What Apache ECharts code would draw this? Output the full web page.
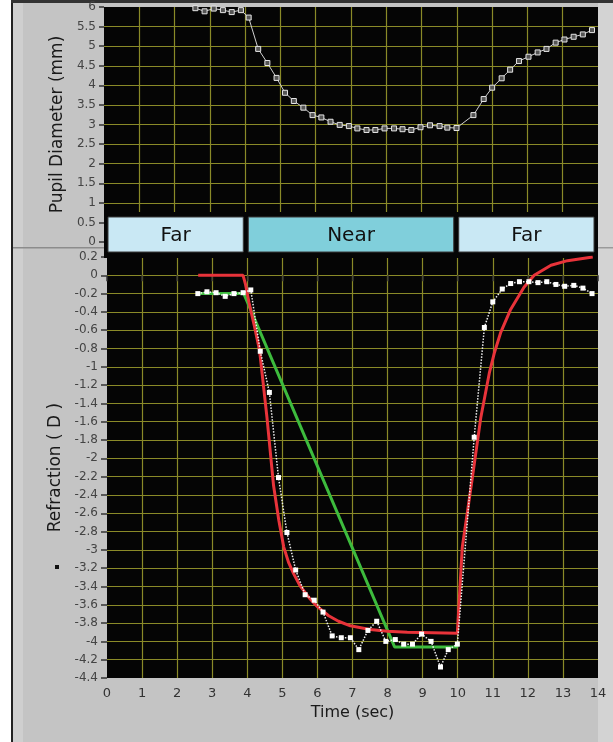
<!DOCTYPE html>
<html>
<head>
<meta charset="utf-8">
<script src="https://cdn.jsdelivr.net/npm/echarts@6/dist/echarts.min.js"></script>
<style>
  html, body { margin: 0; padding: 0; background: #fff; }
  #main { width: 613px; height: 742px; }
</style>
</head>
<body>
<div id="main"></div>
<script>
// sample times (sec), shared by pupil and measured refraction
var sampleTime = [2.59, 2.85, 3.11, 3.37, 3.62, 3.88, 4.10, 4.37, 4.63, 4.89, 5.13, 5.38, 5.65, 5.91,
  6.16, 6.42, 6.68, 6.94, 7.18, 7.44, 7.69, 7.95, 8.22, 8.46, 8.71, 8.97, 9.24, 9.51, 9.73, 9.99,
  10.47, 10.76, 11.00, 11.27, 11.51, 11.76, 12.03, 12.29, 12.54, 12.80, 13.05, 13.31, 13.57, 13.83];
// pupil diameter (mm)
var pupilDiameter = [5.97, 5.89, 5.96, 5.92, 5.87, 5.92, 5.73, 4.93, 4.57, 4.19, 3.81, 3.60, 3.43, 3.24,
  3.18, 3.07, 2.99, 2.96, 2.90, 2.86, 2.86, 2.90, 2.90, 2.88, 2.86, 2.93, 2.98, 2.96, 2.92, 2.91,
  3.24, 3.65, 3.94, 4.18, 4.40, 4.62, 4.73, 4.84, 4.93, 5.09, 5.17, 5.24, 5.30, 5.41];
// measured refraction (D)
var refraction = [-0.20, -0.18, -0.19, -0.23, -0.20, -0.19, -0.16, -0.83, -1.28, -2.21, -2.81, -3.22, -3.49, -3.55,
  -3.68, -3.94, -3.96, -3.96, -4.09, -3.88, -3.78, -4.00, -3.98, -4.03, -4.03, -3.92, -4.00, -4.28, -4.09, -4.03,
  -1.77, -0.57, -0.29, -0.15, -0.09, -0.07, -0.07, -0.08, -0.07, -0.10, -0.12, -0.11, -0.14, -0.20];

// model fit (red)
var fitTime = [2.6, 3.88, 3.95, 4.05, 4.2, 4.35, 4.56, 4.75, 4.9, 5.04, 5.18, 5.32, 5.5, 5.8, 6.0, 6.32, 6.6, 6.94,
  7.5, 8.0, 8.56, 9.99, 10.13, 10.4, 10.66, 10.9, 11.05, 11.23, 11.5, 11.89, 12.18, 12.66, 13.13, 13.85];
var fitValue = [0, 0, -0.1, -0.3, -0.55, -0.82, -1.55, -2.3, -2.68, -2.97, -3.14, -3.26, -3.39, -3.54, -3.62, -3.72, -3.78, -3.83,
  -3.87, -3.89, -3.9, -3.91, -2.97, -2.26, -1.55, -1.07, -0.84, -0.62, -0.38, -0.13, 0.0, 0.11, 0.16, 0.2];

// stimulus ramp (green)
var rampTime = [2.6, 3.9, 8.2, 9.98, 10.0];
var rampValue = [-0.2, -0.2, -4.06, -4.06, -4.02];

// stimulus blocks
var blockStart = [0, 4, 10];
var blockEnd = [4, 10, 14];
var blockName = ['Far', 'Near', 'Far'];

function zip(a, b) {
  return a.map(function (v, i) { return [v, b[i]]; });
}

var gridLine = { show: true, showMinLine: false, showMaxLine: false, lineStyle: { color: '#8a8a28', width: 1.2 } };
var font = '"DejaVu Sans", Verdana, sans-serif';

var myChart = echarts.init(document.getElementById('main'));
myChart.setOption({
  animation: false,
  backgroundColor: '#fff',
  textStyle: { fontFamily: font },
  graphic: [
    { type: 'rect', z: -10, shape: { x: 13, y: 3, width: 600, height: 739 }, style: { fill: '#c4c4c4' } },
    { type: 'rect', z: -9, shape: { x: 13, y: 3, width: 10, height: 739 }, style: { fill: '#cfcfcf' } },
    { type: 'rect', z: -9, shape: { x: 598, y: 3, width: 15, height: 739 }, style: { fill: '#d3d3d3' } },
    { type: 'rect', z: -8, shape: { x: 11, y: 0, width: 2, height: 742 }, style: { fill: '#222' } },
    { type: 'rect', z: -8, shape: { x: 11, y: 0, width: 602, height: 3 }, style: { fill: '#333' } },
    { type: 'rect', z: -8, shape: { x: 13, y: 247, width: 92, height: 1.5 }, style: { fill: '#8c8c8c' } },
    { type: 'rect', z: -8, shape: { x: 598, y: 247, width: 15, height: 1.5 }, style: { fill: '#9a9a9a' } },
    { type: 'rect', z: 1, shape: { x: 104, y: 212, width: 494, height: 46 }, style: { fill: '#050505' } },
    { type: 'rect', z: 1, shape: { x: 55, y: 565, width: 4, height: 4 }, style: { fill: '#111' } }
  ],
  grid: [
    { left: 104, right: 15, top: 7, height: 235, show: true, backgroundColor: '#050505', borderWidth: 0 },
    { left: 107, right: 15, top: 257, height: 421, show: true, backgroundColor: '#050505', borderWidth: 0 },
    { left: 107, right: 15, top: 217, height: 35 }
  ],
  xAxis: [
    {
      gridIndex: 0, type: 'value', min: 0, max: 14, interval: 1,
      axisLine: { show: false }, axisTick: { show: false }, axisLabel: { show: false },
      splitLine: gridLine
    },
    {
      gridIndex: 1, type: 'value', min: 0, max: 14, interval: 1,
      axisLine: { show: false },
      axisTick: { show: true, length: 6, lineStyle: { color: '#333', width: 1.5 } },
      axisLabel: { color: '#333', fontSize: 13, margin: 9, fontFamily: font },
      splitLine: gridLine,
      name: 'Time (sec)', nameLocation: 'middle', nameGap: 26,
      nameTextStyle: { color: '#1a1a1a', fontSize: 16, fontFamily: font }
    },
    { gridIndex: 2, type: 'value', min: 0, max: 14, show: false }
  ],
  yAxis: [
    {
      gridIndex: 0, type: 'value', min: 0, max: 6, interval: 0.5,
      axisLine: { show: false },
      axisTick: { show: true, length: 5, lineStyle: { color: '#333', width: 1.5 } },
      axisLabel: { color: '#444', fontSize: 12, margin: 8, fontFamily: font },
      splitLine: gridLine,
      name: 'Pupil Diameter (mm)', nameLocation: 'middle', nameGap: 24,
      nameTextStyle: { color: '#1a1a1a', fontSize: 17, fontFamily: font }
    },
    {
      gridIndex: 1, type: 'value', min: -4.4, max: 0.2, interval: 0.2,
      axisLine: { show: false },
      axisTick: { show: true, length: 6, lineStyle: { color: '#333', width: 1.5 } },
      axisLabel: { color: '#444', fontSize: 12, margin: 9, fontFamily: font },
      splitLine: gridLine,
      name: 'Refraction ( D )', nameLocation: 'middle', nameGap: 25,
      nameTextStyle: { color: '#1a1a1a', fontSize: 17, fontFamily: font }
    },
    { gridIndex: 2, type: 'value', min: 0, max: 1, show: false }
  ],
  series: [
    {
      name: 'Pupil', type: 'line', xAxisIndex: 0, yAxisIndex: 0,
      data: zip(sampleTime, pupilDiameter),
      symbol: 'rect', symbolSize: 5, showAllSymbol: true,
      lineStyle: { color: '#d0d0d0', width: 1 },
      itemStyle: { color: '#555', borderColor: '#e6e6e6', borderWidth: 1 }
    },
    {
      name: 'Stimulus', type: 'line', xAxisIndex: 1, yAxisIndex: 1,
      data: zip(rampTime, rampValue), symbol: 'none',
      lineStyle: { color: '#3dbb3d', width: 3 }
    },
    {
      name: 'Fit', type: 'line', xAxisIndex: 1, yAxisIndex: 1,
      data: zip(fitTime, fitValue), symbol: 'none',
      lineStyle: { color: '#e8333a', width: 3 }
    },
    {
      name: 'Refraction', type: 'line', xAxisIndex: 1, yAxisIndex: 1,
      data: zip(sampleTime, refraction),
      symbol: 'rect', symbolSize: 5, showAllSymbol: true,
      lineStyle: { color: '#f0f0f0', width: 1.5, type: 'dotted' },
      itemStyle: { color: '#fff' }
    },
    {
      name: 'Blocks', type: 'custom', xAxisIndex: 2, yAxisIndex: 2,
      data: zip(blockStart, blockEnd),
      encode: { x: [0, 1] },
      renderItem: function (params, api) {
        var p0 = api.coord([api.value(0), 1]);
        var p1 = api.coord([api.value(1), 0]);
        var name = blockName[params.dataIndex];
        var x0 = p0[0] + 1;
        var w = p1[0] - p0[0] - 5;
        return {
          type: 'group',
          children: [
            {
              type: 'rect',
              shape: { x: x0, y: p0[1], width: w, height: p1[1] - p0[1] },
              style: { fill: name === 'Near' ? '#80cfdb' : '#c9e8f4', stroke: '#3a3a3a', lineWidth: 1 }
            },
            {
              type: 'text',
              style: {
                text: name, x: x0 + w / 2, y: (p0[1] + p1[1]) / 2 + 1,
                align: 'center', verticalAlign: 'middle',
                fill: '#111', font: '20px ' + font
              }
            }
          ]
        };
      }
    }
  ]
});
</script>
</body>
</html>
